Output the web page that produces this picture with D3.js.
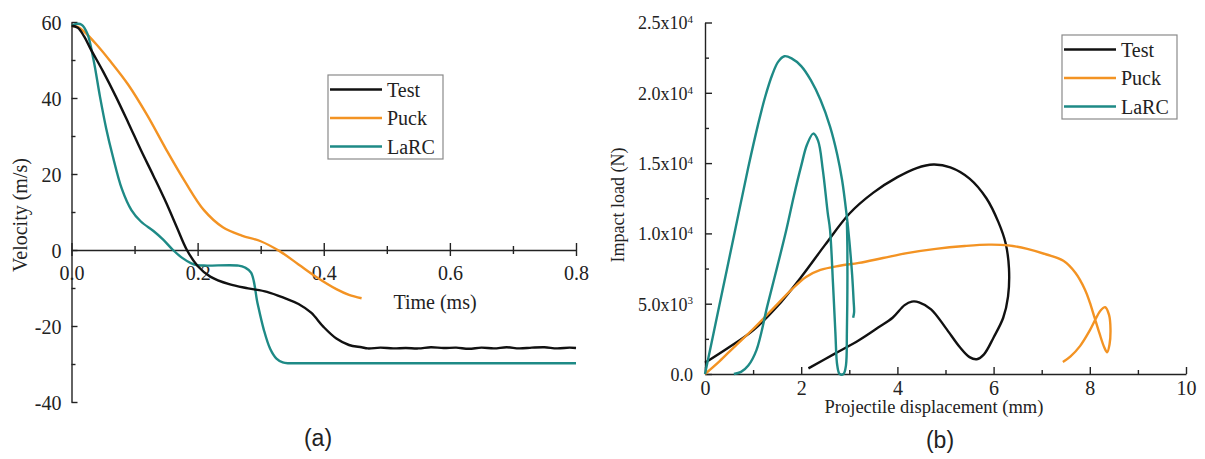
<!DOCTYPE html>
<html>
<head>
<meta charset="utf-8">
<script src="https://cdn.jsdelivr.net/npm/d3@7/dist/d3.min.js"></script>
<style>
  html, body { margin: 0; padding: 0; background: #fff; }
  svg { display: block; }
  .serif { font-family: "Liberation Serif", "Times New Roman", serif; fill: #222; }
  .sans { font-family: "Liberation Sans", Arial, sans-serif; fill: #222; }
</style>
</head>
<body>
<svg id="fig" width="1205" height="459"></svg>
<script>
// ---------- (a) projectile velocity history ----------
const seriesNames = ["Test", "Puck", "LaRC"];
const seriesColors = ["#111111", "#f39323", "#1e8a86"];

const testTime = [0, 0.01, 0.02, 0.03, 0.05, 0.07, 0.09, 0.11, 0.13, 0.15, 0.167, 0.183, 0.2, 0.22, 0.25, 0.28, 0.31, 0.34, 0.36, 0.38, 0.40, 0.42, 0.44, 0.46,
  0.47, 0.49, 0.51, 0.53, 0.55, 0.57, 0.59, 0.61, 0.63, 0.65, 0.67, 0.69, 0.71, 0.73, 0.75, 0.77, 0.79, 0.8];
const testVelocity = [59, 58.5, 56.2, 53, 47, 40.5, 33.5, 26.3, 19.5, 12.5, 6, 0, -4.2, -7, -9, -10.1, -11, -12.8, -14.2, -16.5, -20.3, -23.3, -25, -25.6,
  -25.9, -25.7, -25.9, -25.8, -25.9, -25.6, -25.8, -25.7, -26.0, -25.7, -25.9, -25.6, -25.9, -25.7, -25.6, -25.9, -25.7, -25.8];

const puckTime = [0, 0.01, 0.02, 0.04, 0.06, 0.09, 0.12, 0.15, 0.18, 0.21, 0.24, 0.27, 0.30, 0.33, 0.36, 0.39, 0.42, 0.44, 0.46];
const puckVelocity = [59, 58.7, 57.5, 54, 50, 43.5, 35.5, 26.5, 18, 10.5, 6, 3.8, 2.3, -0.3, -3.8, -7.3, -10.3, -11.8, -12.7];

const larcTime = [0, 0.008, 0.016, 0.025, 0.035, 0.045, 0.055, 0.065, 0.08, 0.095, 0.11, 0.13, 0.145, 0.161, 0.175, 0.19, 0.2, 0.215, 0.265, 0.275,
  0.285, 0.295, 0.305, 0.315, 0.325, 0.335, 0.345, 0.355, 0.8];
const larcVelocity = [59, 59.5, 59.3, 57, 50, 40.5, 32, 25, 16, 10.5, 7.5, 5, 2.8, 0, -2, -3.5, -4, -4.1, -4.1, -4.6,
  -6, -14, -21, -26, -28.6, -29.6, -29.8, -29.8, -29.8];

const timeTicks = [0, 0.2, 0.4, 0.6, 0.8];
const timeMinorTicks = [0.1, 0.3, 0.5, 0.7];
const velocityTicks = [-40, -20, 0, 20, 40, 60];
const velocityMinorTicks = [-30, -10, 10, 30, 50];

// ---------- (b) load-displacement curves ----------
const testDisp = [0, 0.5, 1.0, 1.5, 2.0, 2.5, 3.0, 3.5, 4.0, 4.4, 4.75, 5.1, 5.5, 5.85, 6.1, 6.25, 6.32, 6.3, 6.2, 6.0, 5.8, 5.65, 5.5, 5.3, 5.0, 4.7, 4.45, 4.3, 4.15, 3.9, 3.6, 3.2, 2.7, 2.15];
const testLoad = [800, 1900, 3100, 4800, 6900, 9200, 11400, 12900, 14000, 14650, 14900, 14700, 13900, 12500, 10800, 9300, 7500, 5500, 4000, 2600, 1400, 1050, 1200, 1900, 3300, 4600, 5100, 5150, 4900, 4000, 3300, 2400, 1450, 400];

const puckDisp = [0, 0.3, 0.6, 1.0, 1.4, 1.8, 2.1, 2.4, 2.8, 3.2, 3.7, 4.2, 4.8, 5.4, 5.9, 6.3, 6.7, 7.1, 7.45, 7.7, 7.9, 8.0, 8.1, 8.2, 8.3, 8.36, 8.41, 8.43, 8.4, 8.32, 8.22, 8.12, 8.0, 7.8, 7.6, 7.44];
const puckLoad = [0, 900, 1900, 3200, 4600, 6000, 6900, 7400, 7700, 7900, 8250, 8600, 8900, 9100, 9200, 9150, 8900, 8500, 8050, 7200, 6000, 5100, 4000, 2900, 1900, 1550, 2100, 3200, 4200, 4750, 4500, 3900, 3100, 2000, 1250, 850];

// outer LaRC branch (first loading / unloading)
const larcOuterDisp = [0, 0.3, 0.6, 0.9, 1.1, 1.25, 1.4, 1.52, 1.65, 1.8, 2.0, 2.2, 2.4, 2.6, 2.75, 2.85, 2.94, 3.0, 3.06, 3.09, 3.1, 3.08];
const larcOuterLoad = [0, 4900, 9800, 14700, 17700, 19700, 21300, 22200, 22600, 22450, 21900, 20900, 19500, 17600, 15600, 13800, 11450, 9500, 7000, 5200, 4400, 4000];
// inner LaRC branch
const larcInnerDisp = [0.6, 0.75, 0.9, 1.07, 1.3, 1.5, 1.69, 1.85, 2.0, 2.12, 2.25, 2.35, 2.45, 2.55, 2.6, 2.66, 2.71, 2.75, 2.8, 2.88, 2.93, 2.95, 2.96, 2.96, 2.95];
const larcInnerLoad = [0, 150, 600, 1700, 4900, 7600, 10240, 12700, 14800, 16300, 17100, 16600, 14500, 11500, 10240, 6500, 3000, 600, 0, 0, 600, 3000, 6000, 9000, 10800];

const dispTicks = [0, 2, 4, 6, 8, 10];
const dispMinorTicks = [1, 3, 5, 7, 9];
const loadTicks = [0, 5000, 10000, 15000, 20000, 25000];
const loadMinorTicks = [2500, 7500, 12500, 17500, 22500];

const svg = d3.select("#fig");
const zip = (xs, ys) => xs.map((x, i) => [x, ys[i]]);
// plain hyphen for negative numbers, as in the printed figure
const plain = fmt => d => fmt(d).replace("\u2212", "-");

function styleAxis(g, size) {
  g.select(".domain").attr("stroke", "#222").attr("stroke-width", 1.4);
  g.selectAll(".tick line").attr("stroke", "#222").attr("stroke-width", 1.4);
  g.selectAll(".tick text").attr("class", "serif").style("font-size", size + "px").attr("fill", "#222");
}

function legend(x0, y0, labels, colors) {
  const g = svg.append("g").attr("transform", `translate(${x0},${y0})`);
  g.append("rect").attr("x", 0).attr("y", 0).attr("width", 115).attr("height", 84)
    .attr("fill", "#fff").attr("stroke", "#8a8a8a").attr("stroke-width", 1.2);
  labels.forEach((name, i) => {
    const cy = 14.5 + i * 28.5;
    g.append("line").attr("x1", 2).attr("x2", 54).attr("y1", cy).attr("y2", cy)
      .attr("stroke", colors[i]).attr("stroke-width", 2.6);
    g.append("text").attr("class", "serif").attr("x", 59).attr("y", cy)
      .attr("dy", "0.35em").style("font-size", "20px").text(name);
  });
}

// ===== panel (a) =====
const xA = d3.scaleLinear().domain([0, 0.8]).range([71.5, 576]);
const yA = d3.scaleLinear().domain([-40, 60]).range([402, 22]);

const yAxisA = svg.append("g").attr("transform", `translate(${xA(0)},0)`)
  .call(d3.axisLeft(yA).tickValues(velocityTicks).tickSizeInner(-6).tickSizeOuter(0).tickPadding(10).tickFormat(plain(d3.format("d"))));
styleAxis(yAxisA, 20);
yAxisA.selectAll(".tick text").attr("dy", "0.35em");
const yMinorA = svg.append("g").attr("transform", `translate(${xA(0)},0)`)
  .call(d3.axisLeft(yA).tickValues(velocityMinorTicks).tickSizeInner(-4).tickSizeOuter(0).tickFormat(""));
styleAxis(yMinorA, 20);
yMinorA.select(".domain").remove();

const xAxisA = svg.append("g").attr("transform", `translate(0,${yA(0)})`)
  .call(d3.axisBottom(xA).tickValues(timeTicks).tickSizeOuter(0).tickFormat(d3.format(".1f")));
styleAxis(xAxisA, 20);
xAxisA.selectAll(".tick line").attr("y1", -7).attr("y2", 6);
xAxisA.selectAll(".tick text").attr("y", 16).attr("dy", "0.71em");
const xMinorA = svg.append("g").attr("transform", `translate(0,${yA(0)})`)
  .call(d3.axisBottom(xA).tickValues(timeMinorTicks).tickSizeOuter(0).tickFormat(""));
styleAxis(xMinorA, 20);
xMinorA.select(".domain").remove();
xMinorA.selectAll(".tick line").attr("y1", -4).attr("y2", 4);

const lineA = d3.line().x(d => xA(d[0])).y(d => yA(d[1])).curve(d3.curveCatmullRom.alpha(0.5));
const panelA = [zip(testTime, testVelocity), zip(puckTime, puckVelocity), zip(larcTime, larcVelocity)];
[1, 2, 0].forEach(i => {
  svg.append("path").datum(panelA[i]).attr("d", lineA).attr("fill", "none")
    .attr("stroke", seriesColors[i]).attr("stroke-width", 2.4).attr("stroke-linejoin", "round");
});

svg.append("text").attr("class", "serif").attr("transform", "translate(20,215) rotate(-90)")
  .attr("text-anchor", "middle").attr("dy", "0.35em").style("font-size", "20px").text("Velocity (m/s)");
svg.append("text").attr("class", "serif").attr("x", 435).attr("y", 309)
  .attr("text-anchor", "middle").style("font-size", "20px").text("Time (ms)");
svg.append("text").attr("class", "sans").attr("x", 318).attr("y", 446)
  .attr("text-anchor", "middle").style("font-size", "23px").text("(a)");
legend(328, 75, seriesNames, seriesColors);

// ===== panel (b) =====
const xB = d3.scaleLinear().domain([0, 10]).range([705, 1186]);
const yB = d3.scaleLinear().domain([0, 25000]).range([374, 22.5]);

function loadLabel(sel) {
  sel.each(function(d) {
    const t = d3.select(this).text("");
    if (d === 0) { t.text("0.0"); return; }
    const e = Math.floor(Math.log10(d));
    const m = d / Math.pow(10, e);
    t.append("tspan").text(m.toFixed(1) + "x10");
    t.append("tspan").attr("dy", "-0.55em").style("font-size", "11px").text(e);
  });
}

const yAxisB = svg.append("g").attr("transform", `translate(${xB(0)},0)`)
  .call(d3.axisLeft(yB).tickValues(loadTicks).tickSizeInner(-7).tickSizeOuter(0).tickPadding(12));
styleAxis(yAxisB, 18);
yAxisB.selectAll(".tick text").attr("dy", "0.35em").call(loadLabel);
const yMinorB = svg.append("g").attr("transform", `translate(${xB(0)},0)`)
  .call(d3.axisLeft(yB).tickValues(loadMinorTicks).tickSizeInner(-4).tickSizeOuter(0).tickFormat(""));
styleAxis(yMinorB, 18);
yMinorB.select(".domain").remove();

const xAxisB = svg.append("g").attr("transform", `translate(0,${yB(0)})`)
  .call(d3.axisBottom(xB).tickValues(dispTicks).tickSizeOuter(0).tickFormat(d3.format("d")));
styleAxis(xAxisB, 20);
xAxisB.selectAll(".tick line").attr("y1", -7).attr("y2", 0);
xAxisB.selectAll(".tick text").attr("y", 7).attr("dy", "0.71em");
const xMinorB = svg.append("g").attr("transform", `translate(0,${yB(0)})`)
  .call(d3.axisBottom(xB).tickValues(dispMinorTicks).tickSizeOuter(0).tickFormat(""));
styleAxis(xMinorB, 20);
xMinorB.select(".domain").remove();
xMinorB.selectAll(".tick line").attr("y1", -4).attr("y2", 0);

const lineB = d3.line().x(d => xB(d[0])).y(d => yB(d[1])).curve(d3.curveCatmullRom.alpha(0.5));
const panelB = [
  { data: zip(testDisp, testLoad), color: seriesColors[0] },
  { data: zip(puckDisp, puckLoad), color: seriesColors[1] },
  { data: zip(larcOuterDisp, larcOuterLoad), color: seriesColors[2] },
  { data: zip(larcInnerDisp, larcInnerLoad), color: seriesColors[2] }
];
panelB.forEach(s => {
  svg.append("path").datum(s.data).attr("d", lineB).attr("fill", "none")
    .attr("stroke", s.color).attr("stroke-width", 2.4).attr("stroke-linejoin", "round");
});

svg.append("text").attr("class", "serif").attr("transform", "translate(618,205) rotate(-90)")
  .attr("text-anchor", "middle").attr("dy", "0.35em").style("font-size", "18px").text("Impact load (N)");
svg.append("text").attr("class", "serif").attr("x", 934).attr("y", 413)
  .attr("text-anchor", "middle").style("font-size", "18.5px").text("Projectile displacement (mm)");
svg.append("text").attr("class", "sans").attr("x", 940).attr("y", 448)
  .attr("text-anchor", "middle").style("font-size", "23px").text("(b)");
legend(1062, 35, seriesNames, seriesColors);
</script>
</body>
</html>
